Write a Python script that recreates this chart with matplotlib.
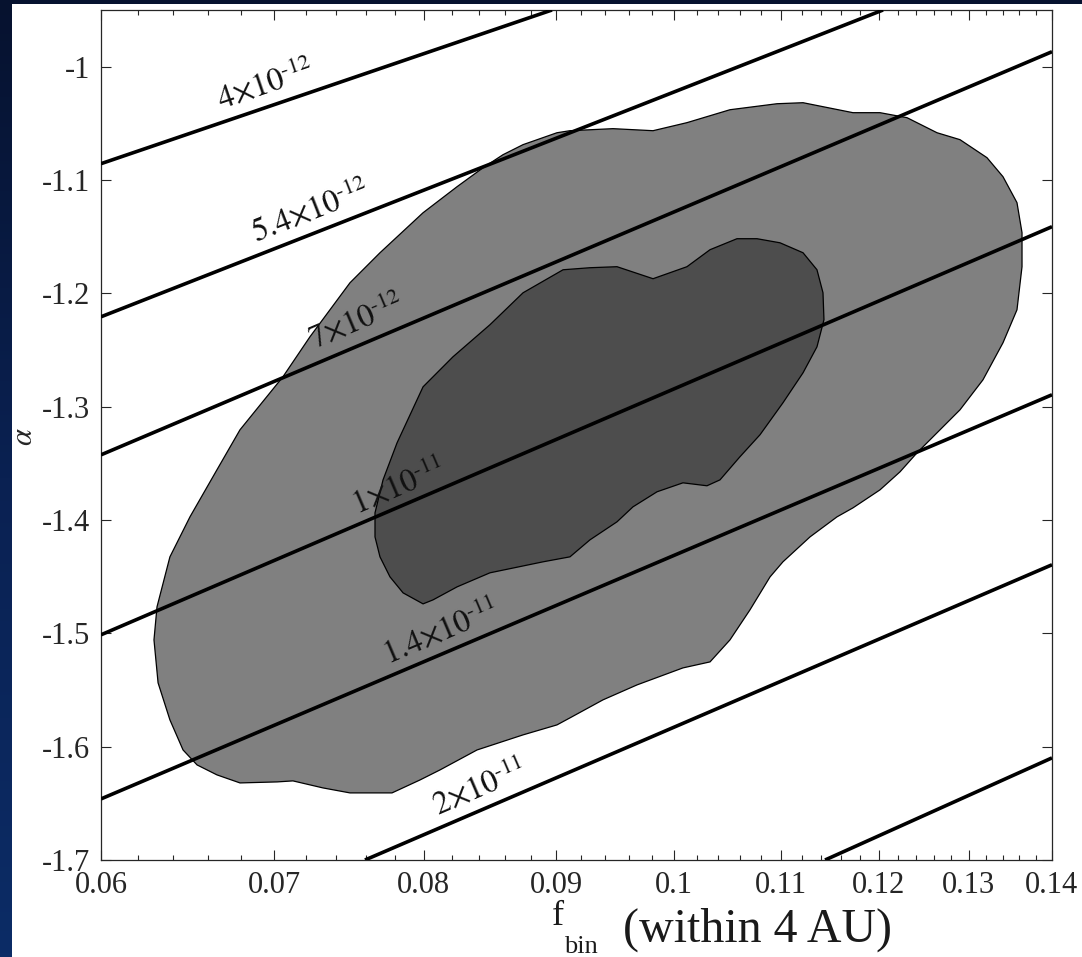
import numpy as np
import matplotlib
matplotlib.use("Agg")
import matplotlib.pyplot as plt
from matplotlib.patches import Polygon, Rectangle
from matplotlib.colors import LinearSegmentedColormap
from matplotlib.ticker import FixedLocator, FuncFormatter

plt.rcParams['font.family'] = ['Liberation Serif', 'DejaVu Serif']
plt.rcParams['mathtext.fontset'] = 'custom'
plt.rcParams['mathtext.rm'] = 'Liberation Serif'
plt.rcParams['mathtext.it'] = 'Liberation Serif:italic'
plt.rcParams['axes.unicode_minus'] = False

# 2-sigma (outer) and 1-sigma (inner) regions in the (f_bin, alpha) plane
outer_fbin = [0.06290, 0.06307, 0.06380, 0.06495, 0.06653, 0.06791, 0.07056, 0.07228,
              0.07490, 0.07693, 0.07994, 0.08240, 0.08433, 0.08584, 0.08739, 0.09007,
              0.09112, 0.09468, 0.09812, 0.10113, 0.10508, 0.10958, 0.11215, 0.11725,
              0.12011, 0.12303, 0.12637, 0.12898, 0.13212, 0.13402, 0.13570, 0.13631,
              0.13631, 0.13570, 0.13402, 0.13165, 0.12898, 0.12671, 0.12414, 0.12227,
              0.12011, 0.11725, 0.11560, 0.11285, 0.11016, 0.10890, 0.10697, 0.10508,
              0.10323, 0.10077, 0.09673, 0.09384, 0.09112, 0.09007, 0.08739, 0.08388,
              0.08116, 0.07972, 0.07776, 0.07490, 0.07312, 0.07119, 0.07019, 0.06791,
              0.06653, 0.06536, 0.06455, 0.06380, 0.06313]
outer_alpha = [-1.5058, -1.4766, -1.4325, -1.3972, -1.3557, -1.3204, -1.2736, -1.2383,
               -1.1907, -1.1642, -1.1289, -1.1059, -1.0892, -1.0777, -1.0688, -1.0583,
               -1.0565, -1.0547, -1.0565, -1.0494, -1.0380, -1.0327, -1.0318, -1.0406,
               -1.0406, -1.0450, -1.0583, -1.0644, -1.0803, -1.0971, -1.1200, -1.1465,
               -1.1765, -1.2145, -1.2436, -1.2763, -1.3028, -1.3204, -1.3407, -1.3575,
               -1.3734, -1.3893, -1.3972, -1.4149, -1.4369, -1.4502, -1.4793, -1.5058,
               -1.5252, -1.5305, -1.5455, -1.5587, -1.5746, -1.5808, -1.5896, -1.6029,
               -1.6205, -1.6294, -1.6408, -1.6408, -1.6364, -1.6302, -1.6311, -1.6320,
               -1.6249, -1.6161, -1.6029, -1.5764, -1.5437]

inner_fbin = [0.07659, 0.07659, 0.07714, 0.07811, 0.07994, 0.08210, 0.08485, 0.08739,
              0.09056, 0.09276, 0.09502, 0.09812, 0.10113, 0.10323, 0.10574, 0.10764,
              0.10987, 0.11215, 0.11355, 0.11416, 0.11426, 0.11355, 0.11215, 0.11016,
              0.10793, 0.10602, 0.10415, 0.10295, 0.10077, 0.09847, 0.09638, 0.09502,
              0.09276, 0.09112, 0.08896, 0.08485, 0.08240, 0.08065, 0.07994, 0.07853,
              0.07762, 0.07693]
inner_alpha = [-1.4149, -1.3937, -1.3646, -1.3319, -1.2825, -1.2560, -1.2277, -1.1995,
               -1.1792, -1.1774, -1.1765, -1.1871, -1.1765, -1.1615, -1.1518, -1.1518,
               -1.1554, -1.1642, -1.1792, -1.1995, -1.2233, -1.2472, -1.2701, -1.2966,
               -1.3248, -1.3442, -1.3646, -1.3698, -1.3672, -1.3751, -1.3884, -1.4016,
               -1.4175, -1.4325, -1.4369, -1.4466, -1.4590, -1.4705, -1.4740, -1.4643,
               -1.4502, -1.4325]

# iso-rate lines: start and end points
rate_labels = [r'$4{\times}10^{\text{-}12}$', r'$5.4{\times}10^{\text{-}12}$',
               r'$7{\times}10^{\text{-}12}$', r'$1{\times}10^{\text{-}11}$',
               r'$1.4{\times}10^{\text{-}11}$', r'$2{\times}10^{\text{-}11}$', None]
line_f0 = [0.06, 0.06, 0.06, 0.06, 0.06, 0.07591, 0.11437]
line_a0 = [-1.0856, -1.2207, -1.3425, -1.5013, -1.6461, -1.70, -1.70]
line_f1 = [0.08967, 0.12043, 0.14, 0.14, 0.14, 0.14, 0.14]
line_a1 = [-0.95, -0.95, -0.9868, -1.1412, -1.2895, -1.4395, -1.6099]

# where each line label sits
label_f = [0.06950, 0.07234, 0.07537, 0.07818, 0.08123, 0.08403]
label_a = [-1.0159, -1.1280, -1.2251, -1.3707, -1.4987, -1.6364]

xticks = [0.06, 0.07, 0.08, 0.09, 0.10, 0.11, 0.12, 0.13, 0.14]
yticks = [-1.7, -1.6, -1.5, -1.4, -1.3, -1.2, -1.1, -1.0]

W, H = 1082, 957
fig = plt.figure(figsize=(W / 100, H / 100), dpi=100)

# dark slide background with a white panel
bg = fig.add_axes([0, 0, 1, 1], zorder=-2)
grad = np.linspace(0, 1, 256).reshape(-1, 1)
cmap_bg = LinearSegmentedColormap.from_list('bg', ['#06122f', '#0a2152', '#0c2c66'])
bg.imshow(grad, aspect='auto', cmap=cmap_bg, extent=[0, 1, 0, 1], origin='upper')
bg.add_patch(Rectangle((12 / W, 0), 1 - 12 / W, 1 - 4 / H, transform=bg.transAxes,
                       facecolor='white', edgecolor='none'))
bg.set_xlim(0, 1)
bg.set_ylim(0, 1)
bg.axis('off')

ax = fig.add_axes([101 / W, 1 - 860 / H, 951 / W, 850 / H])
ax.set_facecolor('white')
ax.set_xscale('log')
ax.set_xlim(0.06, 0.14)
ax.set_ylim(-1.7, -0.95)

ax.add_patch(Polygon(np.column_stack([outer_fbin, outer_alpha]), closed=True,
                     facecolor='#808080', edgecolor='black', linewidth=0.9, zorder=1))
ax.add_patch(Polygon(np.column_stack([inner_fbin, inner_alpha]), closed=True,
                     facecolor='#4d4d4d', edgecolor='black', linewidth=0.9, zorder=2))

for f0, a0, f1, a1 in zip(line_f0, line_a0, line_f1, line_a1):
    ax.plot([f0, f1], [a0, a1], color='black', linewidth=2.6, zorder=3,
            solid_capstyle='butt')

for i, lab in enumerate(rate_labels):
    if lab is None:
        continue
    p0 = ax.transData.transform((line_f0[i], line_a0[i]))
    p1 = ax.transData.transform((line_f1[i], line_a1[i]))
    ang = np.degrees(np.arctan2(p1[1] - p0[1], p1[0] - p0[0]))
    ax.text(label_f[i], label_a[i], lab, fontsize=23, rotation=ang,
            ha='center', va='center', color='#111111', zorder=4,
            math_fontfamily='stix')

ax.xaxis.set_major_locator(FixedLocator(xticks))
ax.xaxis.set_minor_locator(FixedLocator(np.arange(0.06, 0.1401, 0.002)))
ax.xaxis.set_major_formatter(FuncFormatter(lambda v, p: '%g' % round(v, 4)))
ax.xaxis.set_minor_formatter(FuncFormatter(lambda v, p: ''))
ax.yaxis.set_major_locator(FixedLocator(yticks))
ax.yaxis.set_major_formatter(FuncFormatter(lambda v, p: '%g' % round(v, 4)))

ax.tick_params(which='both', direction='in', top=True, right=True,
               color='#262626', width=0.8, labelsize=22, labelcolor='#262626')
ax.tick_params(which='major', length=7.5)
ax.tick_params(which='minor', length=3.5)
ax.tick_params(axis='x', pad=8)
ax.tick_params(axis='y', pad=8)
for s in ax.spines.values():
    s.set_color('#262626')
    s.set_linewidth(0.9)

fig.text(24 / W, 1 - 437 / H, r'$\alpha$', rotation=90, fontsize=22,
         ha='center', va='center', color='#262626', math_fontfamily='stix')
fig.text(552 / W, 1 - 925 / H, 'f', fontsize=26, ha='left', va='baseline', color='#1a1a1a')
fig.text(564 / W, 1 - 953 / H, 'bin', fontsize=19, ha='left', va='baseline', color='#1a1a1a')
fig.text(623 / W, 1 - 942 / H, '(within 4 AU)', fontsize=34.5, ha='left', va='baseline',
         color='#1a1a1a')

fig.savefig('out.png', dpi=100)
